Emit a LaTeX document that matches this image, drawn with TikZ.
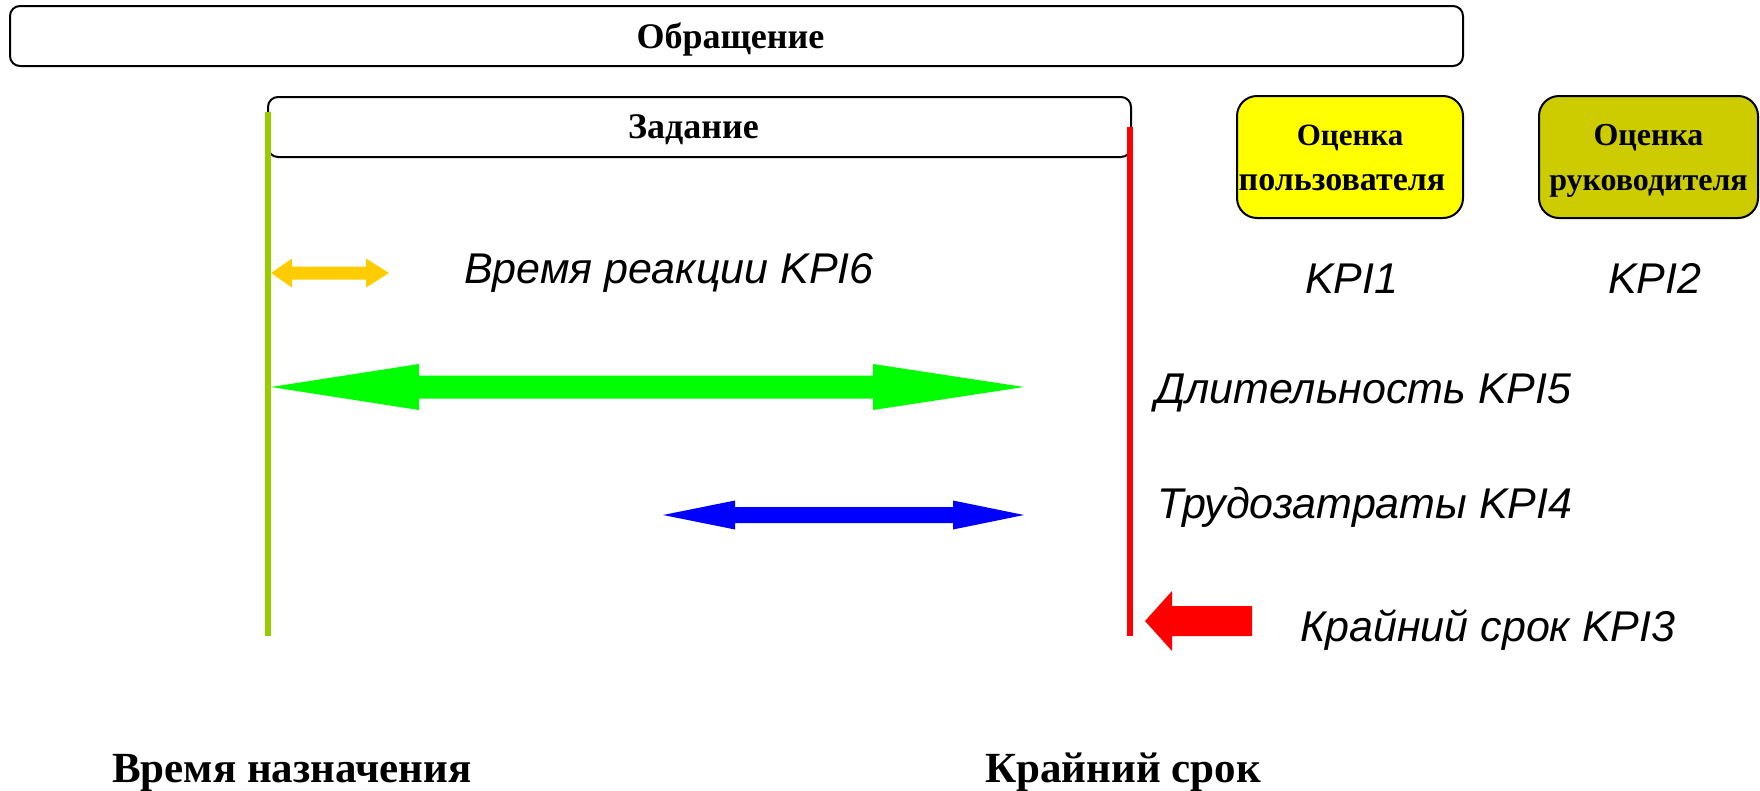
\documentclass[tikz,border=0pt]{standalone}
\usepackage{fontspec}
\setmainfont{Liberation Serif}
\setsansfont{Liberation Sans}
\definecolor{limeline}{HTML}{99CC00}
\definecolor{arrorange}{HTML}{FFCC00}
\definecolor{arrgreen}{HTML}{00FF00}
\definecolor{arrblue}{HTML}{0000FF}
\definecolor{arrred}{HTML}{FF0000}
\definecolor{boxyellow}{HTML}{FFFF00}
\definecolor{boxolive}{HTML}{CCCC00}
\newcommand{\topstrut}{\rule{0pt}{31pt}}
\newcommand{\botstrut}{\rule[-10pt]{0pt}{10pt}}
\begin{document}
\begin{tikzpicture}[x=1pt,y=-1pt,
  bigbox/.style={draw=black,line width=2pt,rounded corners=10pt,fill=white,inner sep=0pt,
    text depth=0pt,font=\fontsize{36}{40}\selectfont\bfseries},
  evalbox/.style={draw=black,line width=2pt,rounded corners=20pt,inner sep=0pt,align=center},
  kpitext/.style={anchor=base west,inner sep=0pt,font=\fontsize{43}{50}\selectfont\sffamily\itshape},
  bottomtext/.style={anchor=base west,inner sep=0pt,font=\fontsize{43}{50}\selectfont\bfseries},
  timeline/.style={line width=5.5pt}]
\useasboundingbox (0,0) rectangle (1760,790);
% boxes
\node[bigbox,minimum width=1453pt,minimum height=60pt] (obr) at (736.5,36) {Обращение\hspace*{12pt}};
\node[bigbox,minimum width=863pt,minimum height=60pt] (zad) at (699.5,127) {Задание\hspace*{12pt}};
\node[evalbox,fill=boxyellow,minimum width=226pt,minimum height=122pt,
  font=\fontsize{34}{45}\selectfont\bfseries] (user) at (1350,157)
  {\topstrut{\fontsize{31}{45}\selectfont Оценка}\\пользователя\hspace*{16pt}\botstrut};
\node[evalbox,fill=boxolive,minimum width=219pt,minimum height=122pt,
  font=\fontsize{32}{45}\selectfont\bfseries] (boss) at (1648.5,157)
  {\topstrut Оценка\\руководителя\botstrut};
% time lines
\coordinate (gtop) at (268,112);
\coordinate (gbot) at (268,636);
\coordinate (rtop) at (1130,127);
\coordinate (rbot) at (1130,636);
\draw[timeline,limeline] (gtop) -- (gbot);
\draw[timeline,arrred] (rtop) -- (rbot);
% orange double arrow (y=273)
\fill[arrorange] (271,273) -- (292,258.5) -- (292,266.5) -- (366,266.5) -- (366,258.5) -- (389,273)
  -- (366,287.5) -- (366,279.5) -- (292,279.5) -- (292,287.5) -- cycle;
% green double arrow (y=387)
\fill[arrgreen] (271,387) -- (419,364) -- (419,375.5) -- (873,375.5) -- (873,364) -- (1024,387)
  -- (873,410) -- (873,398.5) -- (419,398.5) -- (419,410) -- cycle;
% blue double arrow (y=515)
\fill[arrblue] (663,515) -- (735,500.5) -- (735,507) -- (953,507) -- (953,500.5) -- (1024,515)
  -- (953,529.5) -- (953,523) -- (735,523) -- (735,529.5) -- cycle;
% red arrow (y=621)
\fill[arrred] (1145,621) -- (1172,591) -- (1172,606) -- (1252,606) -- (1252,636) -- (1172,636)
  -- (1172,651) -- cycle;
% labels
\node[kpitext] (t6) at (464,283) {Время реакции KPI6};
\node[kpitext] (t1) at (1305,293) {KPI1};
\node[kpitext] (t2) at (1608,293) {KPI2};
\node[kpitext] (t5) at (1155,403) {Длительность KPI5};
\node[kpitext] (t4) at (1157,518) {Трудозатраты KPI4};
\node[kpitext] (t3) at (1300,641) {Крайний срок KPI3};
\node[bottomtext] (b1) at (112,782) {Время назначения};
\node[bottomtext] (b2) at (985,782) {Крайний срок};
\end{tikzpicture}
\end{document}
